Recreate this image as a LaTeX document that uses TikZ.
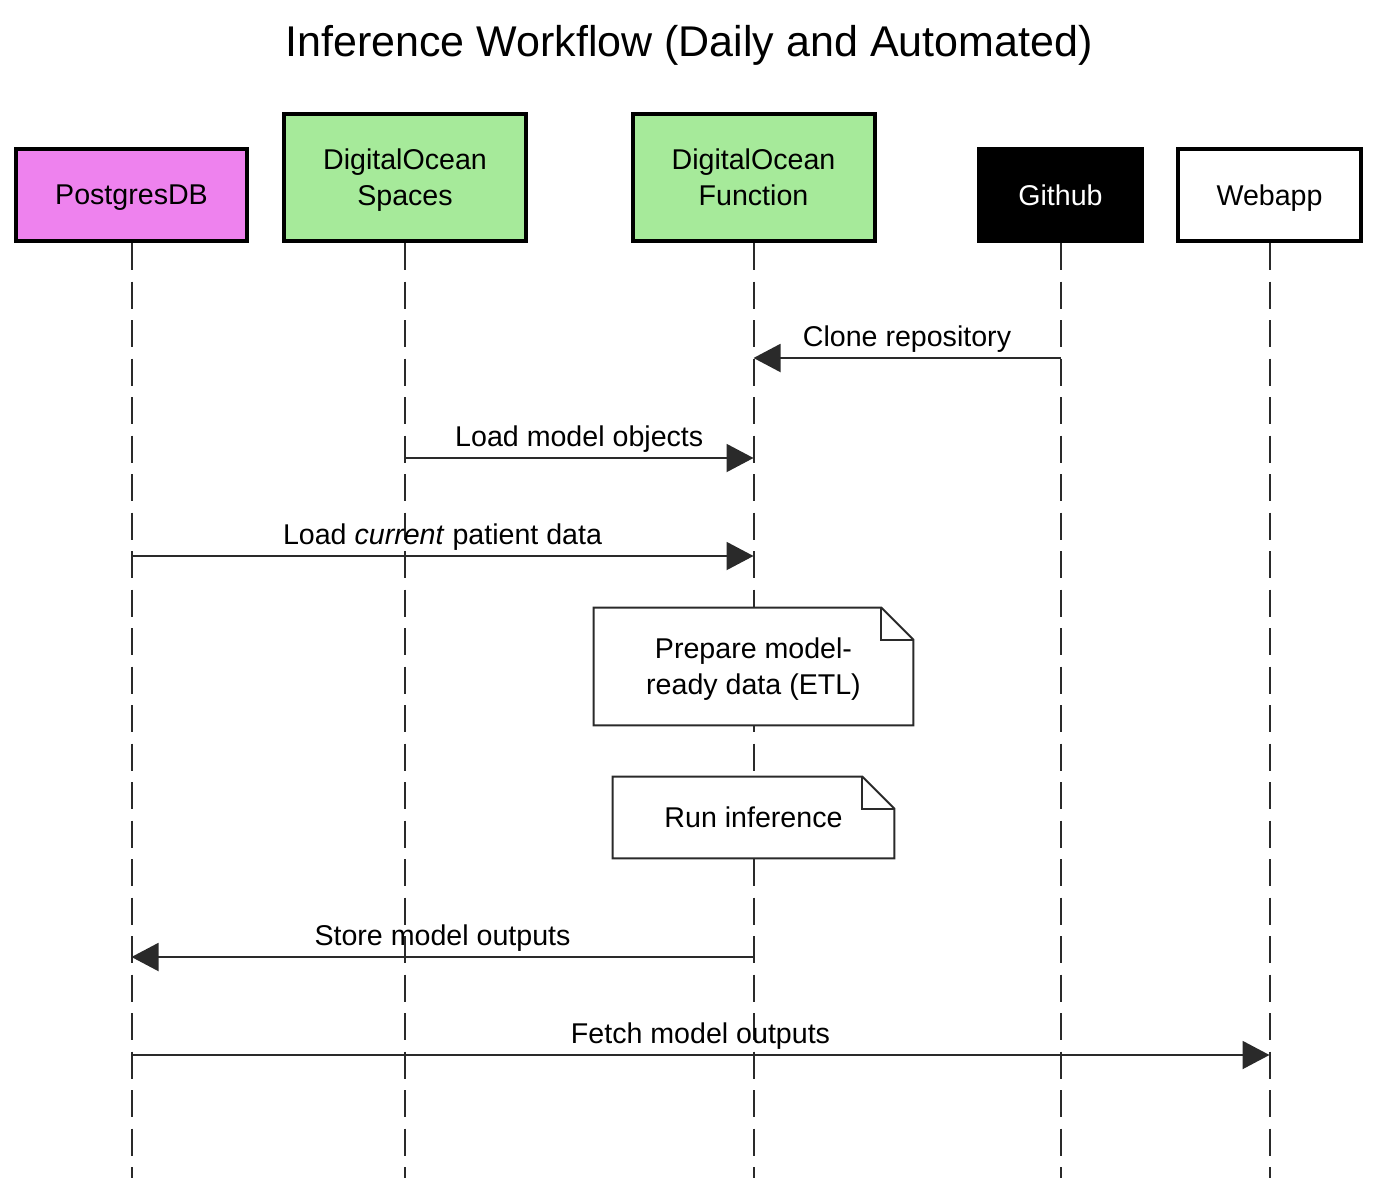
\documentclass[tikz,border=0pt]{standalone}
\usepackage{fontspec}
\setmainfont{Liberation Sans}
\usetikzlibrary{arrows.meta}
\definecolor{pgviolet}{HTML}{EE82EE}
\definecolor{dogreen}{HTML}{A6EA9A}
\definecolor{lifegray}{HTML}{2A2A2A}
\begin{document}
\begin{tikzpicture}
		[x=0.5pt,y=-0.5pt,
		every node/.style={font=\fontsize{14.3}{18}\selectfont,align=center},
		actor/.style={rectangle,draw=black,line width=2pt,minimum width=#1,minimum height=46pt,text depth=0pt},
		lifeline/.style={draw=lifegray,line width=1pt,dash pattern=on 13.5pt off 5.75pt},
		msg/.style={draw=lifegray,line width=1pt,-{Triangle[length=13.5pt,width=14pt]}},
		note/.style={rectangle,fill=white,inner sep=0pt,text depth=0pt},
		noteline/.style={draw=lifegray,line width=1pt,line join=miter}] % pixel grid, y runs down
		
		\useasboundingbox (0,0) rectangle (1380,1178);
		\coordinate (bottom) at (0,1178);
		
		\node (title) at (689,45) {\fontsize{21.5}{26}\selectfont Inference Workflow (Daily and Automated)};
		
		\node[actor=115.5pt,fill=pgviolet] (pg) at (131.5,195) {PostgresDB};
		\node[actor=121pt,minimum height=63.5pt,fill=dogreen] (sp) at (405,177.5) {DigitalOcean\\Spaces};
		\node[actor=121pt,minimum height=63.5pt,fill=dogreen] (fn) at (753.5,177.5) {DigitalOcean\\Function};
		\node[actor=81.5pt,fill=black,text=white] (gh) at (1060.5,195) {Github};
		\node[actor=91.5pt,fill=white] (wa) at (1269.5,195) {Webapp};
		
		\draw [lifeline] (pg.south) -- (pg.south |- bottom);
		\draw [lifeline] (sp.south) -- (sp.south |- bottom);
		\draw [lifeline] (fn.south) -- (fn.south |- bottom);
		\draw [lifeline] (gh.south) -- (gh.south |- bottom);
		\draw [lifeline] (wa.south) -- (wa.south |- bottom);
		
		\draw [msg] (gh |- 0,358) -- node[above=2.5pt,inner sep=0pt] {Clone repository} (fn |- 0,358);
		\draw [msg] (sp |- 0,458) -- node[above=2.5pt,inner sep=0pt] {Load model objects} (fn |- 0,458);
		\draw [msg] (pg |- 0,556) -- node[above=2.5pt,inner sep=0pt] {Load \textit{current} patient data} (fn |- 0,556);
		\draw [msg] (fn |- 0,957) -- node[above=2.5pt,inner sep=0pt] {Store model outputs} (pg |- 0,957);
		\draw [msg] (pg |- 0,1055) -- node[above=2.5pt,inner sep=0pt] {Fetch model outputs} (wa |- 0,1055);
		
		\node[note,minimum width=159.5pt,minimum height=58.5pt] (etl) at (753.5,666.5) {Prepare model-\\ready data (ETL)};
		\draw [noteline] (etl.south west) -- (etl.north west) -- ([xshift=-16pt]etl.north east) -- ([yshift=-16pt]etl.north east) -- (etl.south east) -- cycle;
		\draw [noteline] ([xshift=-16pt]etl.north east) |- ([yshift=-16pt]etl.north east);
		
		\node[note,minimum width=140.5pt,minimum height=40.5pt] (run) at (753.5,817.5) {Run inference};
		\draw [noteline] (run.south west) -- (run.north west) -- ([xshift=-16pt]run.north east) -- ([yshift=-16pt]run.north east) -- (run.south east) -- cycle;
		\draw [noteline] ([xshift=-16pt]run.north east) |- ([yshift=-16pt]run.north east);
		
	\end{tikzpicture}
\end{document}
